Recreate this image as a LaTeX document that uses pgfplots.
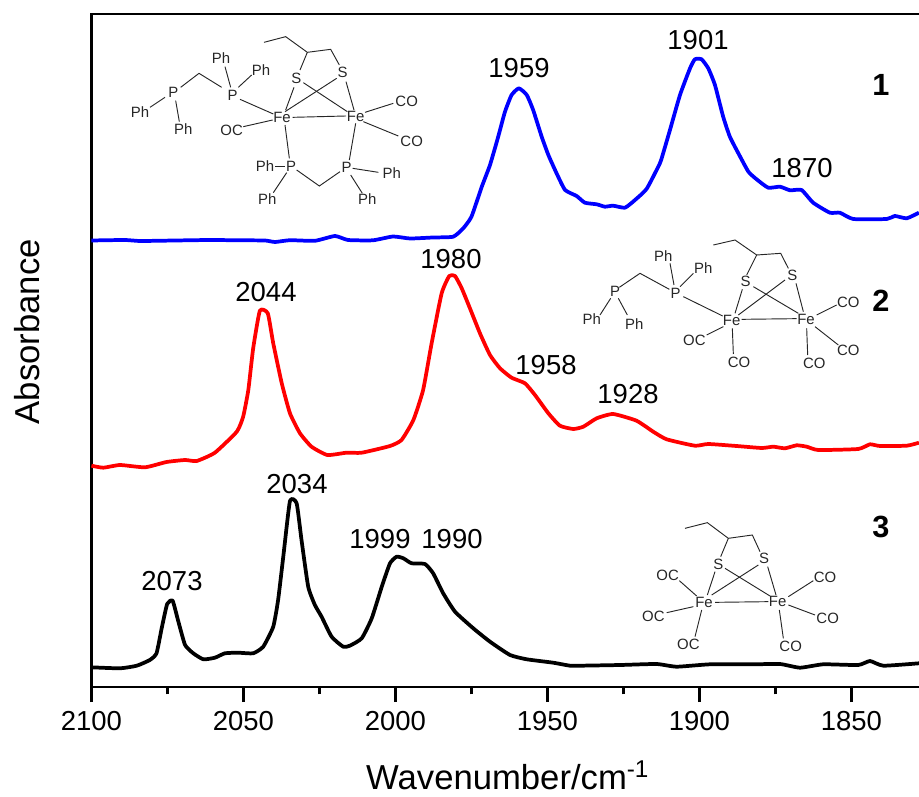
\documentclass[border=0pt]{standalone}
\usepackage{fontspec}
\setmainfont{Liberation Sans}
\usepackage{pgfplots}
\pgfplotsset{compat=1.18}
\newcommand\molfont{\fontsize{11.2pt}{12pt}\selectfont}
\newcommand\lbl[3]{\node[font=\molfont,inner sep=0pt,fill=none] at (#1,#2) {#3};}
\newcommand\peak[3]{\node[font=\fontsize{20.6pt}{24pt}\selectfont,inner sep=0pt] at (#1,#2) {#3};}
\newcommand\cmpd[3]{\node[font=\fontsize{23pt}{26pt}\selectfont\bfseries,inner sep=0pt] at (#1,#2) {#3};}
\begin{document}
\begin{tikzpicture}
\useasboundingbox (0,0) rectangle (689.25pt,597pt);
\begin{axis}[
  at={(68.6pt,81.75pt)}, anchor=south west,
  scale only axis, width=620.6pt, height=504.75pt,
  x dir=reverse, xmin=1827.8, xmax=2100, ymin=0, ymax=673,
  xtick={2100,2050,2000,1950,1900,1850}, minor x tick num=1,
  ytick=\empty, xtick pos=bottom, tick align=outside,
  major tick length=11.25pt, minor tick length=5.5pt,
  every tick/.style={black,line width=1.6pt},
  axis line style={draw=none},
  clip=false,
  /pgf/number format/assume math mode=true,
  xticklabel style={/pgf/number format/1000 sep={},font=\fontsize{20.6pt}{24pt}\selectfont,inner sep=0pt,yshift=-7pt},
  xlabel={Wavenumber/cm\textsuperscript{-1}},
  ylabel={Absorbance},
  xlabel style={font=\fontsize{26pt}{30pt}\selectfont,at={(axis description cs:0.503,-0.131)},anchor=center,inner sep=0pt},
  ylabel style={font=\fontsize{26pt}{30pt}\selectfont,at={(axis description cs:-0.078,0.528)},anchor=center,inner sep=0pt},
]
\draw[black,line width=2.2pt,line cap=rect] (axis description cs:1,0) -- (axis description cs:0,0) -- (axis description cs:0,1) -- (axis description cs:1,1);
\addplot[blue,line width=2.8pt,smooth,tension=0.3,line join=round] table {
2100 446.5
2089 447
2084 446
2072.5 446.5
2061 447
2051.2 446.7
2042.9 446.5
2039.6 445
2034.7 446.8
2026.5 446.2
2019.9 451
2015.6 447
2007.4 446.7
2000.8 450.5
1995.2 448.5
1987.7 449.5
1981 450.3
1977.7 458.7
1975 470.3
1971.6 500.3
1968.9 522
1966.2 550.3
1964 575
1961.8 592
1959.4 598.7
1956.8 592
1954.7 577
1951.9 550.3
1949.7 532
1947 513.7
1944.2 497
1940.4 491
1937.7 484.3
1933.8 482.7
1931.1 480.3
1928.4 481.3
1924.5 479.3
1921.2 487
1917.4 498
1913.6 520
1912.6 527
1909.7 557
1906.4 592
1903.1 618.7
1901.5 627.7
1899.3 627.7
1897.1 618.7
1894.9 602
1892.2 570.3
1890 550.3
1887.2 533.7
1883.9 515.3
1881.2 507.7
1877.4 499.3
1873.5 500.3
1870.2 496.7
1866.4 497
1862.6 484.3
1857.1 474.3
1853.8 474.3
1849.4 468
1838.4 468
1835.7 471
1831.8 468.7
1827.8 474.3
};
\addplot[red,line width=2.8pt,smooth,tension=0.3,line join=round] table {
2100 221.3
2096.1 219.3
2090.6 222
2082.4 219.7
2075.3 225
2069.2 227
2065.4 226
2059.4 234.3
2052.2 255.3
2050.1 270.3
2048.4 297
2046.8 338.7
2044.6 376.3
2042 373.7
2040.2 343.7
2037.4 303.7
2034.7 273.7
2031.4 253.7
2027.6 240.3
2022.4 232
2016.1 234.3
2011.1 234.3
2001.8 241
1998 247
1994.1 267
1990.9 297
1988.1 343.7
1984.8 393.7
1982.3 411
1980.4 411
1978.2 398.7
1975.5 378.7
1972.2 353.7
1968.9 332
1965.6 318.7
1961.8 309.3
1957.4 303.7
1954.1 292
1949.7 273.7
1945.9 261.3
1941.5 258
1938.2 260.3
1933.8 268.7
1928.4 273
1920.7 266.3
1915.2 255.3
1910.8 247.7
1901.5 241.3
1897.1 243
1887.8 241
1879.5 239
1875.7 240.3
1871.9 238.7
1868 241.7
1864.7 240.3
1860.9 237
1847.8 238
1843.9 242.7
1840.6 241
1831.8 241.3
1827.8 244.3
};
\addplot[black,line width=2.8pt,smooth,tension=0.3,line join=round] table {
2100 19.7
2090.6 18.7
2085.1 21.3
2080.8 27
2078.6 33.7
2076.9 58.7
2075.1 83
2073.3 86.3
2071.4 65.3
2069.2 42
2066.5 33.7
2063.2 27.7
2059.4 29.3
2056.1 33.7
2051.7 34.3
2046.8 33.7
2043.5 40.3
2040.2 60.3
2038.6 87
2036.9 130.3
2034.7 186
2032.5 183.7
2030.9 147
2028.7 100.3
2026.5 82
2024.3 70.3
2021 50.3
2017.2 40.3
2015 41.3
2011.1 48.7
2007.8 68.7
2004.5 100.3
2001.8 123.7
1999.6 130.3
1997.4 128.7
1994.7 123.7
1990.3 123
1987.6 113.7
1984.3 93.7
1980.4 75.3
1974.4 58.7
1968.9 45.3
1962.3 32
1956.8 27.7
1948.1 24.3
1942.6 21.3
1939.3 21.3
1926.1 22
1914.1 23
1907.5 20.3
1896.5 22.7
1882.3 22.7
1873.5 23
1866.9 19.3
1859.3 22.7
1847.8 22
1843.9 26
1839.5 21.3
1827.8 23.7
};
\end{axis}
\begin{scope}[yshift=597pt,x=0.75pt,y=-0.75pt]
\peak{519}{68}{1959}
\peak{698}{40}{1901}
\peak{802}{168}{1870}
\peak{266}{292}{2044}
\peak{451}{259}{1980}
\peak{546}{365}{1958}
\peak{628}{394}{1928}
\peak{297}{484}{2034}
\peak{172}{581}{2073}
\peak{380}{539}{1999}
\peak{452}{539}{1990}
\cmpd{881}{85}{1}
\cmpd{881}{301}{2}
\cmpd{881}{527}{3}
% compound 1
\begin{scope}[shift={(110,10)},x=0.25pt,y=-0.25pt,line width=0.7pt,black!85]
\draw (462,97)--(527,80)--(592,127)--(662,118)--(688,165);
\draw (592,127)--(570,180);
\draw (552,232)--(527,300);
\draw (580,218)--(712,305);
\draw (680,205)--(525,305);
\draw (708,215)--(732,300);
\draw (548,322)--(708,318);
\draw (765,307)--(850,280);
\draw (760,335)--(865,378);
\draw (400,350)--(488,330);
\draw (390,268)--(490,312);
\draw (362,232)--(345,170);
\draw (385,232)--(425,195);
\draw (335,232)--(267,190)--(212,232);
\draw (165,262)--(120,292);
\draw (197,272)--(208,335);
\draw (525,345)--(538,445);
\draw (737,340)--(718,450);
\draw (495,468)--(525,468);
\draw (530,488)--(490,548);
\draw (560,480)--(628,528)--(690,485);
\draw (728,475)--(805,487);
\draw (722,495)--(757,550);
\lbl{90}{305}{Ph}\lbl{190}{248}{P}\lbl{220}{357}{Ph}\lbl{333}{143}{Ph}\lbl{453}{180}{Ph}
\lbl{368}{257}{P}\lbl{516}{322}{Fe}\lbl{737}{320}{Fe}\lbl{365}{362}{OC}\lbl{559}{205}{S}
\lbl{698}{187}{S}\lbl{890}{273}{CO}\lbl{905}{393}{CO}\lbl{465}{468}{Ph}\lbl{543}{468}{P}
\lbl{710}{472}{P}\lbl{845}{488}{Ph}\lbl{472}{568}{Ph}\lbl{772}{568}{Ph}
\end{scope}
% compound 2
\begin{scope}[shift={(570,230)},x=0.25pt,y=-0.25pt,line width=0.7pt,black!85]
\draw (430,45)--(495,30)--(560,75)--(632,70)--(655,115);
\draw (560,75)--(530,135);
\draw (517,178)--(495,250);
\draw (550,170)--(685,250);
\draw (645,150)--(505,255);
\draw (678,160)--(700,245);
\draw (515,268)--(680,266);
\draw (740,255)--(800,225);
\draw (735,290)--(805,345);
\draw (710,295)--(713,375);
\draw (410,315)--(460,290);
\draw (487,295)--(490,372);
\draw (340,200)--(458,258);
\draw (312,165)--(300,100);
\draw (330,170)--(370,130);
\draw (298,178)--(210,130)--(148,172);
\draw (122,205)--(90,255);
\draw (145,205)--(172,255);
\lbl{527}{155}{S}\lbl{667}{135}{S}\lbl{485}{272}{Fe}\lbl{708}{268}{Fe}
\lbl{835}{218}{CO}\lbl{835}{360}{CO}\lbl{733}{400}{CO}\lbl{373}{332}{OC}\lbl{507}{397}{CO}
\lbl{317}{190}{P}\lbl{280}{78}{Ph}\lbl{400}{113}{Ph}\lbl{135}{185}{P}\lbl{65}{268}{Ph}\lbl{193}{283}{Ph}
\end{scope}
% compound 3
\begin{scope}[shift={(620,510)},x=0.25pt,y=-0.25pt,line width=0.7pt,black!85]
\draw (195,55)--(262,38)--(325,85)--(397,75)--(420,125);
\draw (325,85)--(302,140);
\draw (285,185)--(262,255);
\draw (315,175)--(450,258);
\draw (415,165)--(275,255);
\draw (443,170)--(468,255);
\draw (285,277)--(445,275);
\draw (505,260)--(580,212);
\draw (505,285)--(585,315);
\draw (478,300)--(490,385);
\draw (178,212)--(230,258);
\draw (140,308)--(220,290);
\draw (245,300)--(225,380);
\lbl{295}{162}{S}\lbl{432}{145}{S}\lbl{252}{278}{Fe}\lbl{473}{275}{Fe}
\lbl{615}{202}{CO}\lbl{623}{325}{CO}\lbl{512}{410}{CO}\lbl{143}{195}{OC}\lbl{100}{318}{OC}\lbl{205}{402}{OC}
\end{scope}
\end{scope}
\end{tikzpicture}
\end{document}
